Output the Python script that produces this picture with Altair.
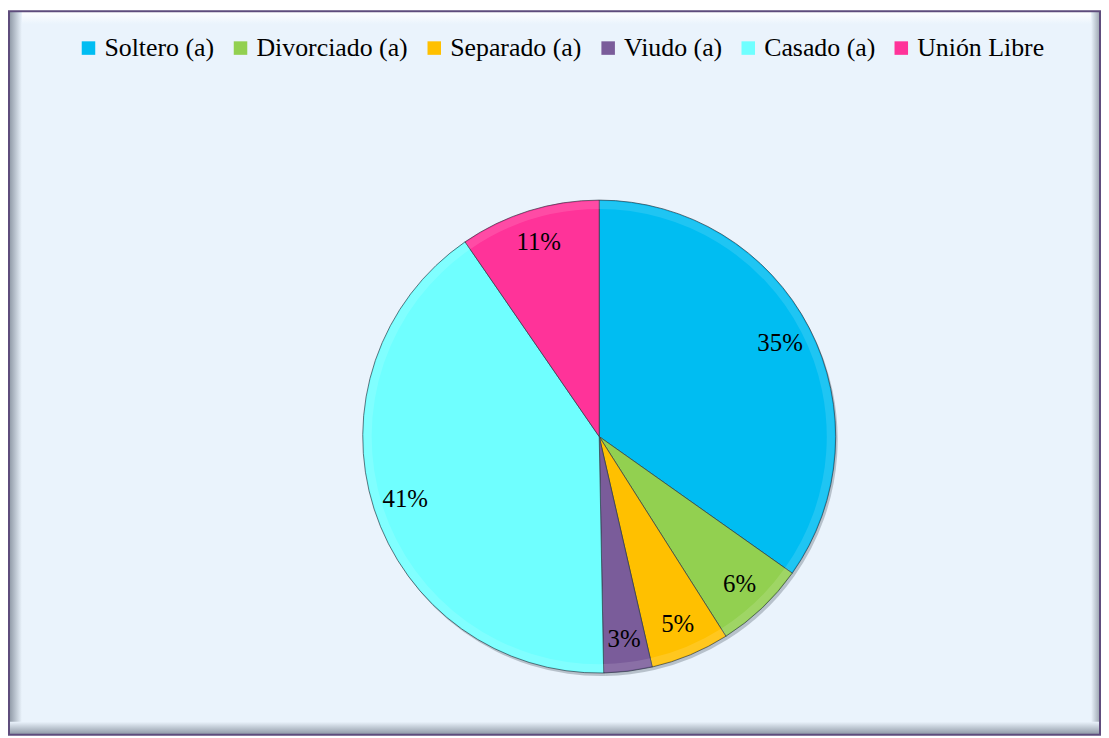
import altair as alt
import pandas as pd

categories = ["Soltero (a)", "Divorciado (a)", "Separado (a)", "Viudo (a)", "Casado (a)", "Unión Libre"]
values = [34.8, 6.2, 5.4, 3.3, 40.7, 9.6]
labels = ["35%", "6%", "5%", "3%", "41%", "11%"]
colors = ["#00BDF2", "#92D050", "#FFC000", "#7A5C9A", "#6FFFFF", "#FF3399"]

df = pd.DataFrame({"cat": categories, "val": values, "lab": labels, "idx": list(range(len(values)))})

W, H = 1100, 730
CX, CY, R = 595, 429, 238
FONT = "Liberation Serif"
BG = "#EAF3FC"

one = pd.DataFrame({"a": [0]})

frame_fill = alt.Chart(one).mark_rect(fill=BG).encode(
    x=alt.value(1), x2=alt.value(W - 1), y=alt.value(1), y2=alt.value(H - 1))


def strip(x1, x2, y1, y2, gx2, gy2, c0, c1):
    return alt.Chart(one).mark_rect(
        fill=alt.Gradient(gradient="linear", x1=0, y1=0, x2=gx2, y2=gy2,
                          stops=[alt.GradientStop(color=c0, offset=0),
                                 alt.GradientStop(color=c1, offset=1)])
    ).encode(x=alt.value(x1), x2=alt.value(x2), y=alt.value(y1), y2=alt.value(y2))


top_s = strip(1, W - 1, 1, 14, 0, 1, "#FFFFFF", BG)
left_s = strip(1, 14, 1, H - 1, 1, 0, "#8C96A3", BG)
right_s = strip(W - 10, W - 1, 1, H - 1, 1, 0, BG, "#9AA3AE")
bottom_s = strip(1, W - 1, H - 14, H - 1, 0, 1, BG, "#8C96A3")

frame_border = alt.Chart(one).mark_rect(fill=None, stroke="#5E4C7C", strokeWidth=2).encode(
    x=alt.value(1), x2=alt.value(W - 1), y=alt.value(1), y2=alt.value(H - 1))

base = alt.Chart(df).encode(
    theta=alt.Theta("val:Q", stack=True),
    order=alt.Order("idx:Q"),
)

shadow = base.mark_arc(radius=R, opacity=0.35, color="#5a6470").encode(
    x=alt.value(CX + 2), y=alt.value(CY + 3)
)

pie = base.mark_arc(radius=R, stroke="#2f3d48", strokeWidth=1, strokeOpacity=0.7).encode(
    x=alt.value(CX), y=alt.value(CY),
    color=alt.Color(
        "cat:N",
        scale=alt.Scale(domain=categories, range=colors),
        sort=categories,
        legend=alt.Legend(
            title=None, orient="none", direction="horizontal", columns=6,
            legendX=68, legendY=25, symbolType="square", symbolSize=185,
            symbolStrokeWidth=0, labelFont=FONT, labelFontSize=26,
            labelColor="#000000", labelOffset=3, columnPadding=13,
            symbolOffset=0, labelLimit=300,
        ),
    ),
)

rim = base.mark_arc(radius=R - 1, radius2=R - 9, color="#FFFFFF", opacity=0.12).encode(
    x=alt.value(CX), y=alt.value(CY)
)

text = base.mark_text(radius=205, font=FONT, fontSize=25, color="#000000").encode(
    x=alt.value(CX), y=alt.value(CY), text="lab:N"
)

chart = alt.layer(frame_fill, top_s, left_s, right_s, bottom_s, frame_border,
                  shadow, pie, rim, text).properties(
    width=W, height=H, background="#FFFFFF", padding=0, autosize=alt.AutoSizeParams(type="none")
).configure_view(stroke=None)

chart.save("out.html", embed_options={"renderer": "svg", "actions": False})
